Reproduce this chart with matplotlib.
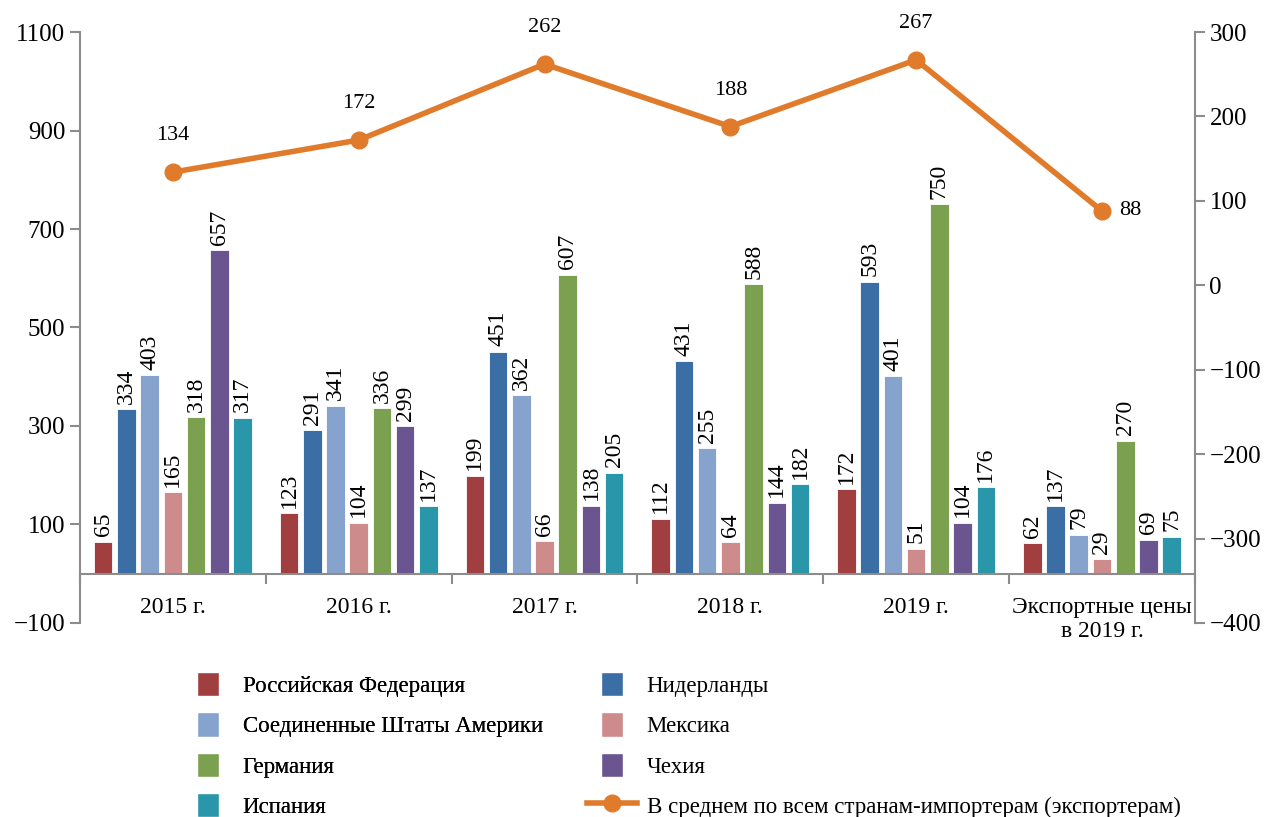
import matplotlib.pyplot as plt
import numpy as np
from matplotlib.lines import Line2D
from matplotlib.patches import Patch, Rectangle
from matplotlib.legend_handler import HandlerPatch

plt.rcParams['font.family'] = ['Liberation Serif', 'DejaVu Serif']

categories = ['2015 г.', '2016 г.', '2017 г.', '2018 г.', '2019 г.', 'Экспортные цены\nв 2019 г.']
russia = [65, 123, 199, 112, 172, 62]
netherlands = [334, 291, 451, 431, 593, 137]
usa = [403, 341, 362, 255, 401, 79]
mexico = [165, 104, 66, 64, 51, 29]
germany = [318, 336, 607, 588, 750, 270]
czech = [657, 299, 138, 144, 104, 69]
spain = [317, 137, 205, 182, 176, 75]
average = [134, 172, 262, 188, 267, 88]

series = [
    ('Российская Федерация', russia, '#A13F40'),
    ('Нидерланды', netherlands, '#3A6EA5'),
    ('Соединенные Штаты Америки', usa, '#86A3CD'),
    ('Мексика', mexico, '#CE8B8B'),
    ('Германия', germany, '#7BA150'),
    ('Чехия', czech, '#6A5590'),
    ('Испания', spain, '#2A96AA'),
]
line_name = 'В среднем по всем странам-импортерам (экспортерам)'
line_color = '#E07B2B'
grey = '#8C8C8C'


def minus(vals):
    return [str(t).replace('-', '\u2212') for t in vals]


fig = plt.figure(figsize=(12.67, 8.17), dpi=100)
ax = fig.add_axes([0.0631, 0.2375, 0.8800, 0.7233])
ax2 = ax.twinx()

x = np.arange(len(categories))
slot = 0.125
width = 0.10
for j, (name, vals, col) in enumerate(series):
    xs = x + (j - 3) * slot
    ax.bar(xs, vals, width, color=col, edgecolor='white', linewidth=0.6, zorder=2)
    for xi, v in zip(xs, vals):
        ax.text(xi, v + 11, str(v), rotation=90, ha='center', va='bottom', fontsize=17)

ax.set_xlim(-0.5, len(categories) - 0.5)
ax.set_ylim(-100, 1100)
yt = list(range(-100, 1101, 200))
ax.set_yticks(yt)
ax.set_yticklabels(minus(yt))
ax.spines['bottom'].set_position(('data', 0))
ax.spines['top'].set_visible(False)
ax.spines['right'].set_visible(False)
for s in ['left', 'bottom']:
    ax.spines[s].set_color(grey)
    ax.spines[s].set_linewidth(1.5)
ax.set_xticks(np.arange(len(categories) + 1) - 0.5)
ax.set_xticklabels([])
ax.set_xticks(x, minor=True)
ax.set_xticklabels(categories, minor=True, fontsize=17, linespacing=1.15)
ax.tick_params(axis='x', which='major', length=7, width=1.5, color=grey, direction='out')
ax.tick_params(axis='x', which='minor', length=0, pad=17)
ax.tick_params(axis='y', length=7, width=1.5, color=grey, labelsize=18)

ax2.plot(x, average, color=line_color, lw=4, marker='o', ms=12, zorder=3)
for i, v in enumerate(average):
    if i == len(average) - 1:
        ax2.text(x[i] + 0.09, v, str(v), ha='left', va='center', fontsize=16)
    else:
        ax2.text(x[i], v + 32, str(v), ha='center', va='bottom', fontsize=16)
ax2.set_ylim(-400, 300)
rt = list(range(-400, 301, 100))
ax2.set_yticks(rt)
ax2.set_yticklabels(minus(rt))
for s in ['top', 'left', 'bottom']:
    ax2.spines[s].set_visible(False)
ax2.spines['right'].set_color(grey)
ax2.spines['right'].set_linewidth(1.5)
ax2.tick_params(axis='y', length=7, width=1.5, color=grey, labelsize=18)


def square(legend, orig_handle, xdescent, ydescent, width, height, fontsize):
    pw = 16
    ph = height
    return Rectangle((-xdescent + (width - pw) / 2, -ydescent + (height - ph) / 2), pw, ph)


col1 = [series[k] for k in [0, 2, 4, 6]]
col2 = [series[k] for k in [1, 3, 5]]
leg_kw = dict(loc='upper left', frameon=False, fontsize=16.5, handlelength=2.2,
              handleheight=1.25, labelspacing=0.68, handletextpad=0.4,
              borderpad=0, borderaxespad=0,
              handler_map={Patch: HandlerPatch(patch_func=square)})
h1 = [Patch(facecolor=c, edgecolor='white', label=n) for n, v, c in col1]
leg1 = fig.legend(handles=h1, bbox_to_anchor=(183 / 1267, 1 - 672 / 817), **leg_kw)
h2 = [Patch(facecolor=c, edgecolor='white', label=n) for n, v, c in col2]
h2.append(Line2D([0], [0], color=line_color, lw=4, marker='o', ms=12, label=line_name))
fig.legend(handles=h2, bbox_to_anchor=(587 / 1267, 1 - 672 / 817), **leg_kw)
fig.add_artist(leg1)

fig.savefig('out.png', dpi=100)
